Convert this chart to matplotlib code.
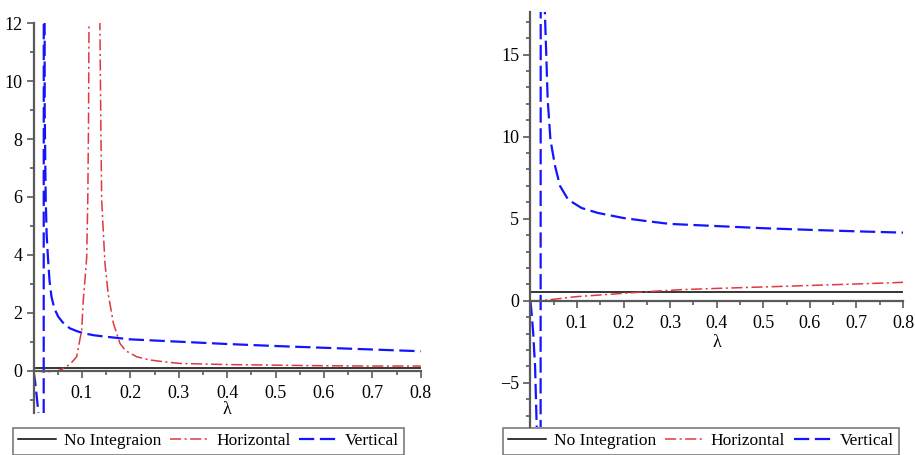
import matplotlib.pyplot as plt
from matplotlib.lines import Line2D

plt.rcParams['font.family'] = ['Liberation Serif', 'DejaVu Serif']
plt.rcParams['lines.scale_dashes'] = False

# ---- left panel data ----
lam_vert_l = [0, 0.003, 0.006, 0.0097, 0.013, 0.016, 0.019, 0.0205,
              0.0212, 0.023, 0.025, 0.027, 0.030, 0.033, 0.037, 0.043, 0.051,
              0.060, 0.075, 0.090, 0.103, 0.125, 0.15, 0.20, 0.25, 0.30,
              0.35, 0.40, 0.50, 0.60, 0.70, 0.80]
vert_l = [0, -0.35, -0.8, -1.4, -2.3, -4.0, -10, -60,
          40, 9.0, 6.0, 4.7, 3.83, 3.1, 2.56, 2.15, 1.87,
          1.68, 1.47, 1.37, 1.3, 1.23, 1.18, 1.09, 1.05, 1.01,
          0.97, 0.93, 0.86, 0.8, 0.74, 0.68]

lam_horz_l = [0, 0.02, 0.035, 0.048, 0.058, 0.068, 0.078, 0.089, 0.0994,
              0.1027, 0.106, 0.1097, 0.112, 0.1135, 0.1145, 0.125,
              0.137, 0.139, 0.1407, 0.1475, 0.154, 0.165, 0.1785, 0.19,
              0.213, 0.24, 0.268, 0.302, 0.40, 0.50, 0.60, 0.70, 0.80]
horz_l = [0, -0.02, -0.02, 0, 0.05, 0.15, 0.28, 0.49, 1.41,
          2.45, 3.1, 3.9, 5.9, 8.5, 12, 40,
          12, 8.5, 5.9, 3.71, 2.68, 1.64, 0.95, 0.7,
          0.49, 0.38, 0.32, 0.26, 0.22, 0.2, 0.18, 0.17, 0.17]

lam_none_l = [0, 0.8]
none_l = [0.1, 0.1]

# ---- right panel data ----
lam_vert_r = [0, 0.003, 0.006, 0.01, 0.0135, 0.017, 0.0215,
              0.0225, 0.027, 0.031, 0.034, 0.037, 0.043, 0.053, 0.0635,
              0.081, 0.11, 0.145, 0.20, 0.25, 0.30, 0.40, 0.50, 0.60,
              0.70, 0.80]
vert_r = [0, -0.9, -2.0, -4.0, -7.7, -14, -60,
          80, 30, 17.6, 15, 12.3, 9.8, 8.2, 7.0,
          6.16, 5.65, 5.35, 5.04, 4.85, 4.68, 4.55, 4.42, 4.32,
          4.23, 4.15]

lam_horz_r = [0, 0.02, 0.04, 0.06, 0.08, 0.10, 0.15, 0.20, 0.25, 0.32,
              0.40, 0.536, 0.60, 0.70, 0.80]
horz_r = [0, 0, 0.06, 0.12, 0.19, 0.25, 0.35, 0.45, 0.55, 0.67,
          0.75, 0.87, 0.93, 1.02, 1.12]

lam_none_r = [0, 0.8]
none_r = [0.56, 0.56]

legend_left = ['No Integraion', 'Horizontal', 'Vertical']
legend_right = ['No Integration', 'Horizontal', 'Vertical']

blue = '#1414ff'
red = '#e0393b'
gray = '#5a5a5a'
blue_dash = (0, (11, 4))
red_dash = (0, (8, 2.5, 1.5, 2.5))

fig = plt.figure(figsize=(9.15, 4.55), dpi=100)
ax1 = fig.add_axes([0.0367, 0.0923, 0.4231, 0.8571])
ax2 = fig.add_axes([0.5797, 0.0615, 0.4072, 0.9121])


def style(ax, ylim, yticks, yminor):
    ax.set_xlim(0, 0.8)
    ax.set_ylim(*ylim)
    for s in ['top', 'right']:
        ax.spines[s].set_visible(False)
    for s in ['left', 'bottom']:
        ax.spines[s].set_position(('data', 0))
        ax.spines[s].set_color(gray)
        ax.spines[s].set_linewidth(1.6)
    ax.set_xticks([0.1, 0.2, 0.3, 0.4, 0.5, 0.6, 0.7, 0.8])
    ax.set_xticklabels(['0.1', '0.2', '0.3', '0.4', '0.5', '0.6', '0.7', '0.8'])
    ax.set_xticks([0.05, 0.15, 0.25, 0.35, 0.45, 0.55, 0.65, 0.75], minor=True)
    ax.set_yticks(yticks)
    ax.set_yticklabels([str(t).replace('-', '\u2212') for t in yticks])
    ax.set_yticks(yminor, minor=True)
    ax.tick_params(which='both', color=gray, width=1.2, direction='out')
    ax.tick_params(which='major', length=5, labelsize=13)
    ax.tick_params(which='minor', length=3)
    ax.tick_params(axis='x', pad=5)
    ax.tick_params(axis='y', pad=3)
    ax.patch.set_alpha(0)


style(ax1, (-1.45, 12), [0, 2, 4, 6, 8, 10, 12], [-1, 1, 3, 5, 7, 9, 11])
style(ax2, (-7.7, 17.6), [-5, 0, 5, 10, 15],
      [v for v in range(-7, 18) if v % 5 != 0])

ax1.plot(lam_none_l, none_l, color='black', lw=1.1)
ax1.plot(lam_horz_l, horz_l, color=red, lw=1.1, linestyle=red_dash)
ax1.plot(lam_vert_l, vert_l, color=blue, lw=1.6, linestyle=blue_dash)

ax2.plot(lam_none_r, none_r, color='black', lw=1.1)
ax2.plot(lam_horz_r, horz_r, color=red, lw=1.1, linestyle=red_dash)
ax2.plot(lam_vert_r, vert_r, color=blue, lw=1.6, linestyle=blue_dash)

ax1.text(0.4, -1.34, '\u03bb', ha='center', va='center', fontsize=13)
ax2.text(0.4, -2.56, '\u03bb', ha='center', va='center', fontsize=13)

handles = [Line2D([], [], color='black', lw=1.1),
           Line2D([], [], color=red, lw=1.1, linestyle=red_dash),
           Line2D([], [], color=blue, lw=1.6, linestyle=blue_dash)]

for labels, x0 in [(legend_left, 12.7 / 915), (legend_right, 502.7 / 915)]:
    leg = fig.legend(handles, labels, loc='upper left',
                     bbox_to_anchor=(x0, 1 - 428 / 455), ncol=3,
                     fancybox=False, edgecolor=gray, fontsize=12.5,
                     handlelength=2.2, handletextpad=0.45, columnspacing=0.5,
                     borderpad=0.3, borderaxespad=0)
    leg.get_frame().set_linewidth(1.2)

fig.savefig('out.png', dpi=100)
